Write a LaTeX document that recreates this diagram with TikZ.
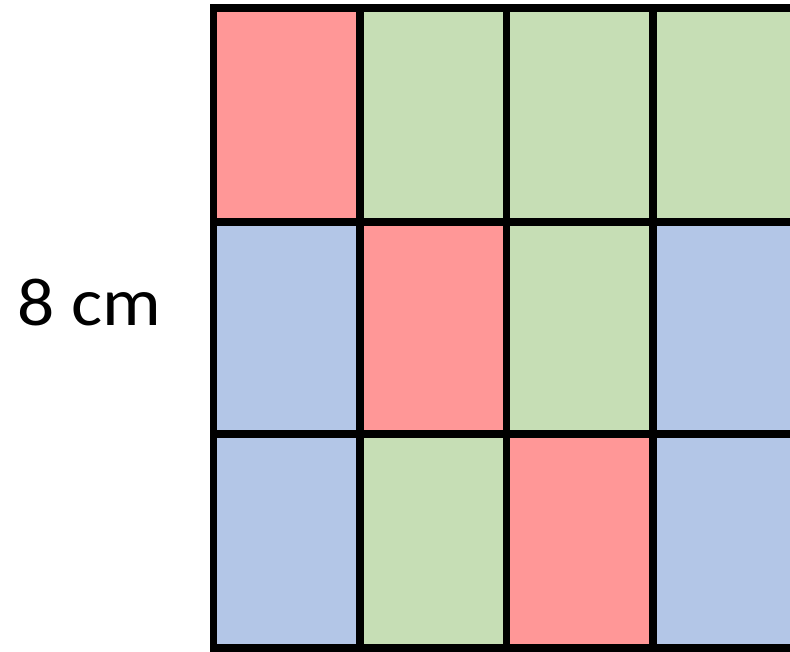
\documentclass[tikz,border=0pt]{standalone}
\usepackage{fontspec}
\setmainfont{Carlito}
\definecolor{cred}{HTML}{FF9797}
\definecolor{cgreen}{HTML}{C6DEB5}
\definecolor{cblue}{HTML}{B3C6E7}
\begin{document}
\begin{tikzpicture}[x=1pt,y=1pt,
  cell/.style={draw=black,line width=7.5pt,minimum width=146.5pt,minimum height=214pt,inner sep=0pt,outer sep=0pt,anchor=south west},
  lbl/.style={font=\fontsize{68}{80}\selectfont,inner sep=0pt,anchor=base,xscale=1.08}]
\useasboundingbox (0,0) rectangle (790,651);
\clip (0,0) rectangle (790,651);
\fill[white] (0,0) rectangle (790,651);
% columns x: 213.5, 360, 506.5, 653 ; rows y(bottom): 429, 215, 3
\node[cell,fill=cred]   (r1c1) at (213.5,429) {};
\node[cell,fill=cgreen] (r1c2) at (360,429) {};
\node[cell,fill=cgreen] (r1c3) at (506.5,429) {};
\node[cell,fill=cgreen] (r1c4) at (653,429) {};
\node[cell,fill=cblue]  (r2c1) at (213.5,215) {};
\node[cell,fill=cred]   (r2c2) at (360,215) {};
\node[cell,fill=cgreen] (r2c3) at (506.5,215) {};
\node[cell,fill=cblue]  (r2c4) at (653,215) {};
\node[cell,fill=cblue]  (r3c1) at (213.5,3) {};
\node[cell,fill=cgreen] (r3c2) at (360,3) {};
\node[cell,fill=cred]   (r3c3) at (506.5,3) {};
\node[cell,fill=cblue]  (r3c4) at (653,3) {};
\node[lbl] (len) at (89.5,325) {8 cm};
\end{tikzpicture}
\end{document}
